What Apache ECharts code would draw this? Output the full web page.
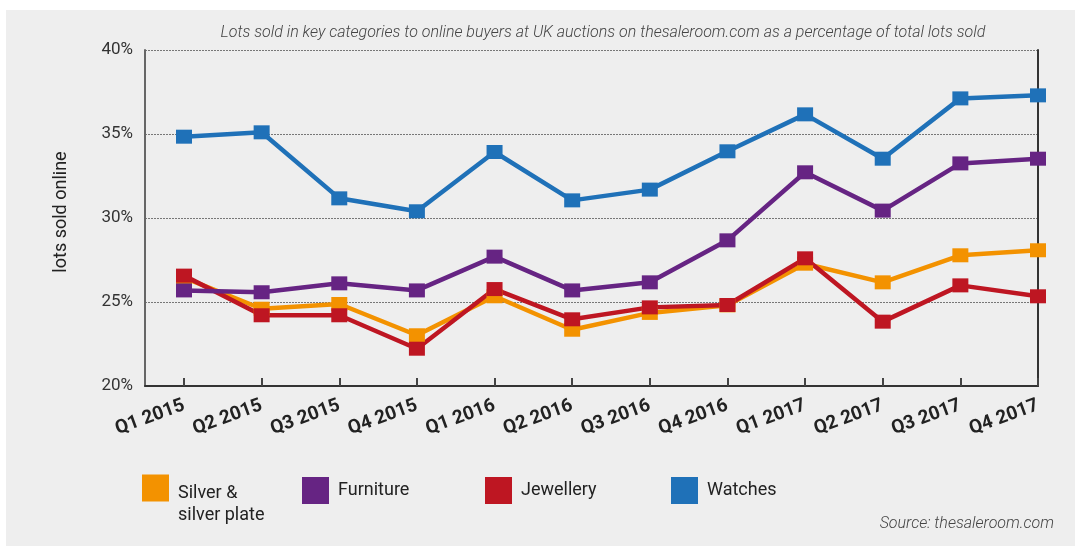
<!DOCTYPE html>
<html>
<head>
<meta charset="utf-8">
<title>Lots sold online</title>
<script src="https://cdn.jsdelivr.net/npm/echarts@6/dist/echarts.min.js"></script>
<style>
  html, body { margin: 0; padding: 0; background: #fff; }
  .all { position: relative; width: 1075px; height: 546px; overflow: hidden; }
  .all_bg { position: absolute; left: 6px; top: 10px; right: 0; bottom: 0; background: #eeeeee; }
  #chart { position: absolute; left: 0; top: 0; width: 1075px; height: 546px; }
</style>
</head>
<body>
<div class="all">
  <div class="all_bg"></div>
  <div id="chart"></div>
</div>
<script>
// quarters on the x axis
const quarters = ['Q1 2015', 'Q2 2015', 'Q3 2015', 'Q4 2015', 'Q1 2016', 'Q2 2016',
  'Q3 2016', 'Q4 2016', 'Q1 2017', 'Q2 2017', 'Q3 2017', 'Q4 2017'];

// % of lots sold online
const silver = [26.45, 24.6, 24.88, 23.02, 25.34, 23.35, 24.35, 24.8, 27.28, 26.17, 27.78, 28.08];
const furniture = [25.69, 25.58, 26.11, 25.69, 27.7, 25.69, 26.17, 28.67, 32.72, 30.44, 33.25, 33.53];
const jewellery = [26.57, 24.21, 24.21, 22.22, 25.77, 23.97, 24.68, 24.82, 27.6, 23.83, 25.99, 25.34];
const watches = [34.84, 35.1, 31.17, 30.4, 33.93, 31.05, 31.69, 33.97, 36.17, 33.53, 37.12, 37.3];

const yMin = 20, yMax = 40, yStep = 5;

const FONT = 'Roboto';
const colors = {
  silver: '#f39200',
  furniture: '#662483',
  jewellery: '#be1622',
  watches: '#1f71b8'
};

function lineSeries(name, data, color) {
  return {
    name: name,
    type: 'line',
    xAxisIndex: 1,
    yAxisIndex: 2,
    data: data,
    symbol: 'rect',
    symbolSize: [16, 14],
    lineStyle: { color: color, width: 4.5 },
    itemStyle: { color: color },
    emphasis: { disabled: true }
  };
}

function legendAt(left, top, name) {
  return {
    left: left,
    top: top,
    padding: 0,
    data: [name],
    icon: 'rect',
    itemWidth: 27,
    itemHeight: 27,
    selectedMode: false,
    textStyle: { fontFamily: FONT, fontSize: 18, color: '#222', padding: [0, 0, 0, 4] }
  };
}

const chart = echarts.init(document.getElementById('chart'));

// two-line legend label: an empty first line pushes the text down next to the square
const silverLegend = legendAt(142, 457, 'Silver & silver plate');
silverLegend.formatter = function () { return '{g| }\n{t|Silver &}\n{t|silver plate}'; };
silverLegend.textStyle.rich = {
  g: { lineHeight: 33, fontSize: 18, fontFamily: FONT },
  t: { lineHeight: 22, fontSize: 18, fontFamily: FONT, color: '#222' }
};

const option = {
  animation: false,
  backgroundColor: 'transparent',
  title: [
    {
      text: 'Lots sold in key categories to online buyers at UK auctions on thesaleroom.com as a percentage of total lots sold',
      left: 598,
      top: 20,
      textAlign: 'center',
      textStyle: { fontFamily: FONT, fontSize: 16, fontStyle: 'italic', fontWeight: 300, color: '#444' }
    },
    {
      text: 'Source: thesaleroom.com',
      right: 16,
      top: 511,
      textStyle: { fontFamily: FONT, fontSize: 16, fontStyle: 'italic', fontWeight: 300, color: '#444' }
    }
  ],
  legend: [
    silverLegend,
    legendAt(302, 477, 'Furniture'),
    legendAt(485, 477, 'Jewellery'),
    legendAt(671, 477, 'Watches')
  ],
  grid: [
    // frame, gridlines and y labels
    { left: 145, right: 37, top: 50, bottom: 160 },
    // data grid, first quarter sits half a step in from the left axis
    { left: 184, right: 37, top: 50, bottom: 160 }
  ],
  xAxis: [
    {
      gridIndex: 0,
      type: 'value',
      min: 0,
      max: 1,
      axisLine: { show: true, onZero: false, lineStyle: { color: '#333', width: 2 } },
      axisTick: { show: false },
      axisLabel: { show: false },
      splitLine: { show: false }
    },
    {
      gridIndex: 1,
      type: 'category',
      data: quarters,
      boundaryGap: false,
      axisLine: { show: false },
      axisTick: { show: true, interval: 0, inside: true, length: 8, lineStyle: { color: '#444', width: 2 } },
      axisLabel: {
        interval: 0,
        hideOverlap: false,
        rotate: 20,
        margin: 19,
        fontFamily: FONT,
        fontSize: 19,
        fontWeight: 'bold',
        color: '#222'
      },
      splitLine: { show: false }
    }
  ],
  yAxis: [
    {
      gridIndex: 0,
      type: 'value',
      min: yMin,
      max: yMax,
      interval: yStep,
      name: 'lots sold online',
      nameLocation: 'middle',
      nameGap: 75,
      nameTextStyle: { fontFamily: FONT, fontSize: 18, color: '#222', padding: [0, 0, 0, 12] },
      axisLine: { show: true, lineStyle: { color: '#666', width: 2 } },
      axisTick: { show: false },
      axisLabel: {
        margin: 12,
        fontFamily: FONT,
        fontSize: 17,
        color: '#333',
        formatter: function (v) { return v + '%'; }
      },
      splitLine: { show: true, lineStyle: { color: '#777', width: 1, type: [2, 1] } }
    },
    {
      gridIndex: 0,
      type: 'value',
      position: 'right',
      min: yMin,
      max: yMax,
      interval: yStep,
      axisLine: { show: true, lineStyle: { color: '#333', width: 2 } },
      axisTick: { show: false },
      axisLabel: { show: false },
      splitLine: { show: false }
    },
    {
      gridIndex: 1,
      type: 'value',
      min: yMin,
      max: yMax,
      interval: yStep,
      show: false
    }
  ],
  series: [
    lineSeries('Silver & silver plate', silver, colors.silver),
    lineSeries('Jewellery', jewellery, colors.jewellery),
    lineSeries('Furniture', furniture, colors.furniture),
    lineSeries('Watches', watches, colors.watches)
  ]
};
chart.setOption(option);
window.addEventListener('resize', function () {
  chart.resize();
});
</script>
</body>
</html>
